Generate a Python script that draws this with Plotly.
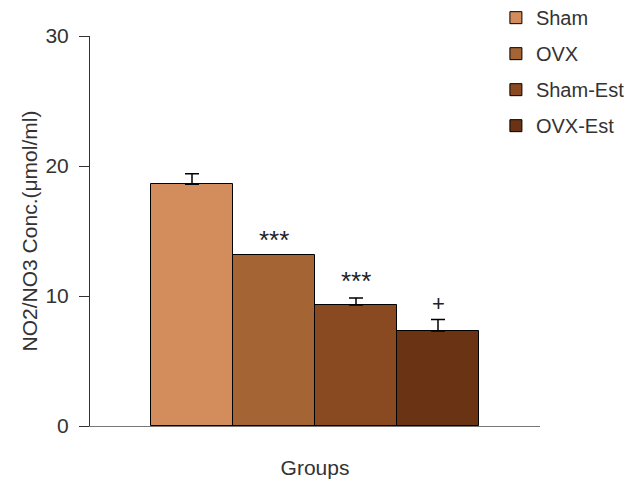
import plotly.graph_objects as go

groups = ["Sham", "OVX", "Sham-Est", "OVX-Est"]
values = [18.6, 13.15, 9.3, 7.3]
errors = [0.8, 0.0, 0.55, 0.9]
colors = ["#D38C5B", "#A56434", "#8A4A21", "#6A3414"]
marks = ["", "***", "***", "+"]
mark_y = [0, 14.3, 11.15, 9.45]
yticks = [0, 10, 20, 30]

fig = go.Figure()
for i, g in enumerate(groups):
    fig.add_trace(go.Bar(
        x=[i], y=[values[i]], name=g, width=1.0,
        marker=dict(color=colors[i], line=dict(color="black", width=1)),
        error_y=dict(type="data", symmetric=False, array=[errors[i]], arrayminus=[0],
                     color="black", thickness=1.5, width=7, visible=errors[i] > 0),
        legendgroup=g,
    ))

for i, m in enumerate(marks):
    if m:
        fig.add_annotation(x=i, y=mark_y[i], text=m, showarrow=False,
                           font=dict(size=26 if m != "+" else 22, color="#222"))

fig.update_layout(
    width=638, height=482,
    margin=dict(l=90, r=98, t=36, b=56, autoexpand=False),
    plot_bgcolor="white", paper_bgcolor="white",
    font=dict(family="Liberation Sans, Arial, sans-serif", color="#333", size=19),
    showlegend=True, bargap=0,
    legend=dict(x=0.902, y=1.097, xanchor="left", yanchor="top",
                font=dict(size=20), tracegroupgap=7,
                itemwidth=30, bgcolor="rgba(0,0,0,0)"),
    xaxis=dict(range=[-1.244, 4.244], showticklabels=False, ticks="",
               showline=True, linecolor="#777", linewidth=1,
               showgrid=False, zeroline=False,
               title=dict(text="Groups", font=dict(size=21), standoff=34)),
    yaxis=dict(range=[0, 30], tickvals=yticks, ticks="outside", ticklen=10,
               tickcolor="#333", showline=True, linecolor="#333", linewidth=1,
               showgrid=False, zeroline=False, tickfont=dict(size=21),
               ticklabelstandoff=6,
               title=dict(text="NO2/NO3 Conc.(μmol/ml)", font=dict(size=21), standoff=2)),
)

fig.write_html("out.html", config={"displayModeBar": False},
               post_script="document.body.style.margin='0';")
